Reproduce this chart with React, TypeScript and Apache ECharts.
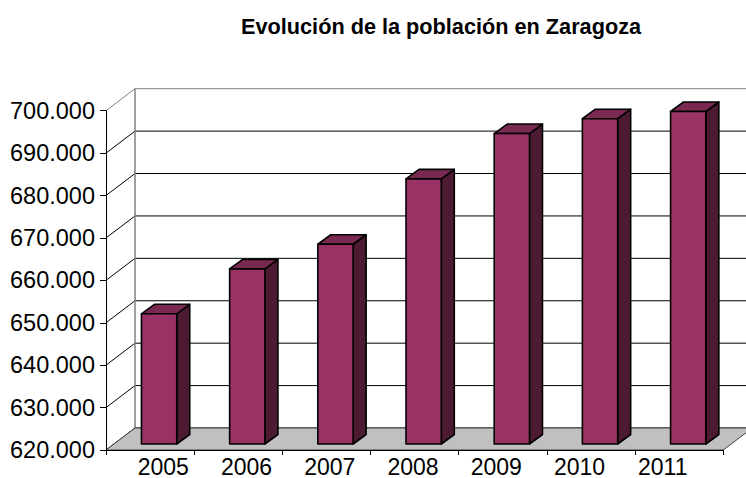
import React, { useEffect, useRef } from "react";
import * as echarts from "echarts";

const years = ["2005", "2006", "2007", "2008", "2009", "2010", "2011"];
const population = [650700, 661300, 667100, 682500, 693200, 696700, 698400];
const yTicks = [620000, 630000, 640000, 650000, 660000, 670000, 680000, 690000, 700000];
const titleText = "Evolución de la población en Zaragoza";

const Y_MIN = 620000;
const Y_MAX = 700000;
const FONT = '"Liberation Sans", Arial, sans-serif';

// oblique depth of the walls
const WX = 29;
const WY = -22;
// bar front-face offset and bar depth
const FX = 9;
const FY = -6;
const DX = 13;
const DY = -9.5;

const fmt = (v: number) => String(v).replace(/\B(?=(\d{3})+(?!\d))/g, ".");

export default function App() {
  const ref = useRef<HTMLDivElement>(null);
  useEffect(() => {
    if (!ref.current) return;
    const chart = echarts.init(ref.current, undefined, { renderer: "svg" });
    const option: any = {
      animation: false,
      backgroundColor: "#ffffff",
      title: {
        text: titleText,
        left: 236,
        top: 10,
        textStyle: { fontFamily: FONT, fontSize: 21.7, fontWeight: "bold", color: "#000" },
      },
      grid: [
        { left: 106, right: 22.7, top: 110.7, bottom: 28, containLabel: false },
        { left: 121.6, width: 582.8, top: 110.7, bottom: 28, containLabel: false },
      ],
      xAxis: [
        {
          type: "category",
          gridIndex: 0,
          data: years,
          z: 10,
          boundaryGap: true,
          axisLine: { show: true, lineStyle: { color: "#000", width: 1 } },
          axisTick: { show: true, length: 5, lineStyle: { color: "#000" } },
          axisLabel: { show: false },
          splitLine: { show: false },
        },
        {
          type: "category",
          gridIndex: 1,
          data: years,
          axisLine: { show: false },
          axisTick: { show: false },
          axisLabel: { show: true, margin: 5, fontFamily: FONT, fontSize: 23, color: "#000" },
          splitLine: { show: false },
        },
      ],
      yAxis: [
        {
          type: "value",
          gridIndex: 0,
          min: Y_MIN,
          max: Y_MAX,
          interval: 10000,
          z: 10,
          axisLine: { show: true, lineStyle: { color: "#000", width: 1 } },
          axisTick: { show: true, length: 6, lineStyle: { color: "#000" } },
          axisLabel: {
            show: true,
            margin: 11,
            fontFamily: FONT,
            fontSize: 23.5,
            color: "#000",
            formatter: (v: number) => fmt(v),
          },
          splitLine: { show: false },
        },
        {
          type: "value",
          gridIndex: 1,
          min: Y_MIN,
          max: Y_MAX,
          interval: 10000,
          show: false,
        },
      ],
      series: [
        {
          type: "custom",
          name: "walls",
          xAxisIndex: 0,
          yAxisIndex: 0,
          clip: false,
          z: 1,
          silent: true,
          data: yTicks.map((v) => [0, v]),
          renderItem: (params: any, api: any) => {
            const cs = params.coordSys;
            const v = api.value(1);
            const y = api.coord([0, v])[1];
            const gx = cs.x;
            const gw = cs.width;
            const isTop = v === Y_MAX;
            const color = isTop ? "#808080" : "#000";
            const children: any[] = [
              {
                type: "line",
                shape: { x1: gx, y1: y, x2: gx + WX, y2: y + WY },
                style: { stroke: color, lineWidth: 1 },
              },
              {
                type: "line",
                shape: { x1: gx + WX, y1: y + WY, x2: gx + gw + WX, y2: y + WY },
                style: { stroke: color, lineWidth: 1 },
              },
            ];
            if (isTop) {
              const yb = api.coord([0, Y_MIN])[1];
              children.push({
                type: "line",
                shape: { x1: gx + WX, y1: y + WY, x2: gx + WX, y2: yb + WY },
                style: { stroke: "#808080", lineWidth: 1.5 },
              });
            }
            return { type: "group", children };
          },
        },
        {
          type: "custom",
          name: "floor",
          xAxisIndex: 0,
          yAxisIndex: 0,
          clip: false,
          z: 2,
          silent: true,
          data: [[0, Y_MIN]],
          renderItem: (params: any, api: any) => {
            const cs = params.coordSys;
            const yb = api.coord([0, Y_MIN])[1];
            const gx = cs.x;
            const gw = cs.width;
            return {
              type: "polygon",
              shape: {
                points: [
                  [gx, yb],
                  [gx + gw, yb],
                  [gx + gw + WX, yb + WY],
                  [gx + WX, yb + WY],
                ],
              },
              style: { fill: "#c0c0c0", stroke: "#404040", lineWidth: 1 },
            };
          },
        },
        {
          type: "custom",
          name: "Población",
          xAxisIndex: 0,
          yAxisIndex: 0,
          clip: false,
          z: 3,
          data: population.map((v, i) => [i, v]),
          renderItem: (params: any, api: any) => {
            const idx = api.value(0);
            const val = api.value(1);
            const tp = api.coord([idx, val]);
            const bp = api.coord([idx, Y_MIN]);
            const w = api.size([1, 0])[0] * 0.4;
            const cx = tp[0] + FX;
            const l = cx - w / 2;
            const r = cx + w / 2;
            const t = tp[1] + FY;
            const b = bp[1] + FY;
            const st = { stroke: "#000", lineWidth: 1.6, lineJoin: "round" };
            return {
              type: "group",
              children: [
                {
                  type: "polygon",
                  shape: { points: [[r, t], [r + DX, t + DY], [r + DX, b + DY], [r, b]] },
                  style: { fill: "#4d1a33", ...st },
                },
                {
                  type: "polygon",
                  shape: { points: [[l, t], [l + DX, t + DY], [r + DX, t + DY], [r, t]] },
                  style: { fill: "#7a2952", ...st },
                },
                {
                  type: "rect",
                  shape: { x: l, y: t, width: w, height: b - t },
                  style: { fill: "#993366", ...st },
                },
              ],
            };
          },
        },
      ],
    };
    chart.setOption(option);
    return () => chart.dispose();
  }, []);
  return <div ref={ref} style={{ width: 746, height: 478, position: "absolute", left: 0, top: 0 }} />;
}
